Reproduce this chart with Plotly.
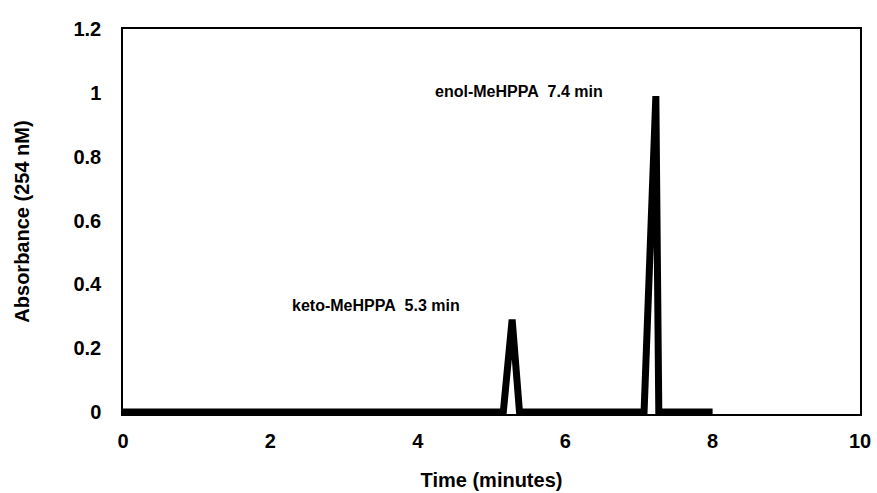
import plotly.graph_objects as go

# Chromatogram trace (time in minutes, absorbance)
time_min = [0.0, 5.16, 5.28, 5.38, 7.07, 7.21, 7.23, 7.27, 8.0]
absorbance = [0.0, 0.0, 0.29, 0.0, 0.0, 0.99, 0.99, 0.0, 0.0]

# Peak labels
label_text = ["keto-MeHPPA\u00a0\u00a05.3 min", "enol-MeHPPA\u00a0\u00a07.4 min"]
label_x = [3.43, 5.37]
label_y = [0.333, 1.004]

x_ticks = [0, 2, 4, 6, 8, 10]
y_ticks = [0, 0.2, 0.4, 0.6, 0.8, 1, 1.2]
y_tick_text = ["0", "0.2", "0.4", "0.6", "0.8", "1", "1.2"]

FONT = "Liberation Sans, Arial, sans-serif"

fig = go.Figure()
fig.add_trace(go.Scatter(
    x=time_min, y=absorbance, mode="lines",
    line=dict(color="black", width=7),
    hoverinfo="skip", showlegend=False,
))

for t, x, y in zip(label_text, label_x, label_y):
    fig.add_annotation(
        x=x, y=y, xref="x", yref="y", text=t, showarrow=False,
        font=dict(family=FONT, size=16, color="black", weight="bold"),
    )

fig.update_layout(
    width=877, height=493,
    margin=dict(l=123, r=17, t=29, b=79),
    paper_bgcolor="white", plot_bgcolor="white",
    font=dict(family=FONT, color="black"),
    showlegend=False,
)

fig.update_xaxes(
    range=[0, 10], tickvals=x_ticks, ticktext=[str(v) for v in x_ticks],
    showgrid=False, zeroline=False, automargin=False,
    showline=True, linecolor="black", linewidth=1.5, mirror=True,
    ticks="", ticklabelstandoff=8,
    tickfont=dict(family=FONT, size=20, color="black", weight="bold"),
    title=dict(text="Time (minutes)", standoff=22,
               font=dict(family=FONT, size=20, color="black", weight="bold")),
)
fig.update_yaxes(
    range=[-0.006, 1.2], tickvals=y_ticks, ticktext=y_tick_text,
    showgrid=False, zeroline=False, automargin=False,
    showline=True, linecolor="black", linewidth=1.5, mirror=True,
    ticks="", ticklabelstandoff=16,
    tickfont=dict(family=FONT, size=20, color="black", weight="bold"),
    title=dict(text="Absorbance (254 nM)", standoff=38,
               font=dict(family=FONT, size=20, color="black", weight="bold")),
)

fig.write_html("out.html")
